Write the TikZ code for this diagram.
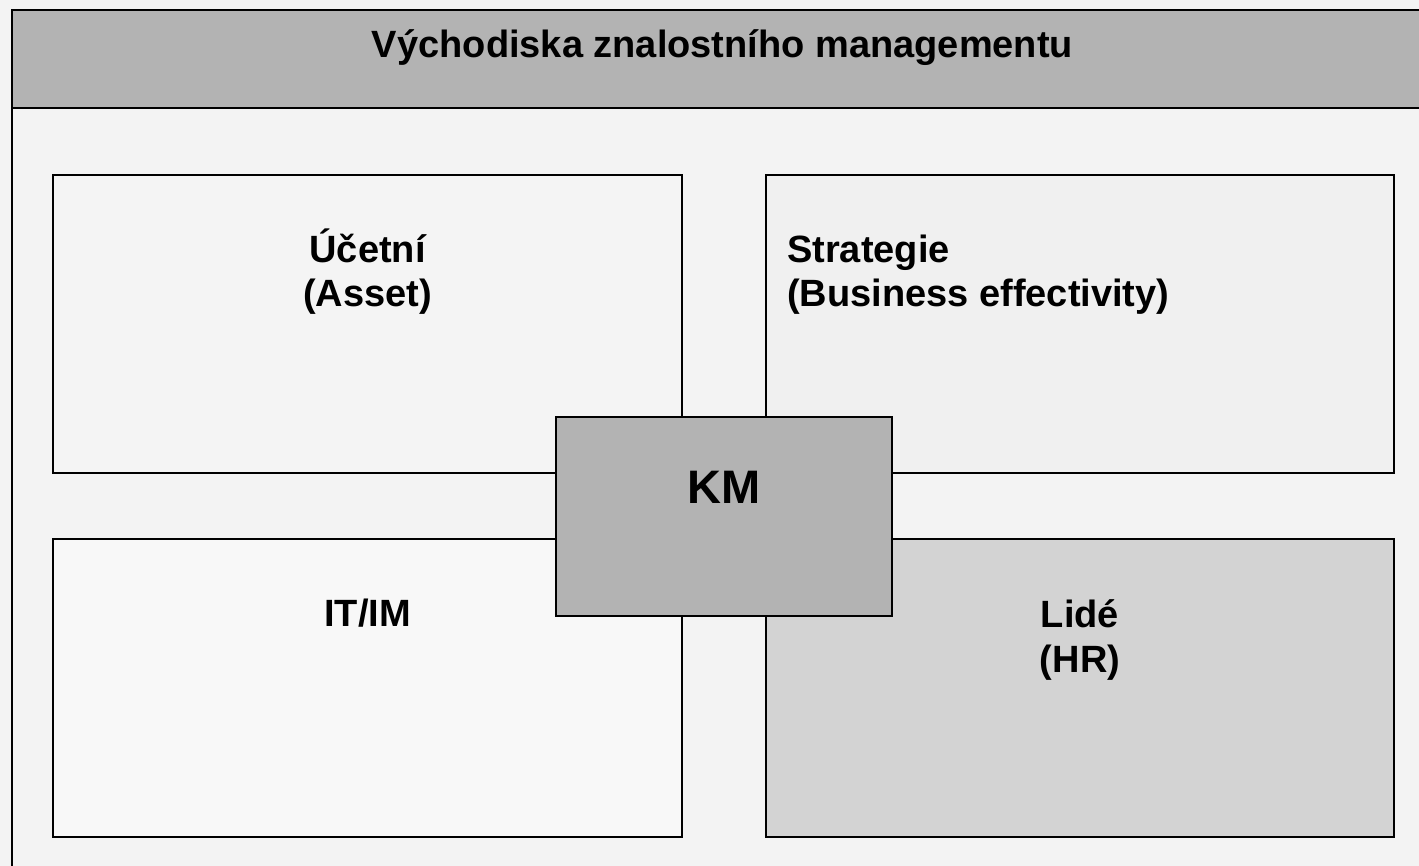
\documentclass[tikz,border=0pt]{standalone}
\usepackage{fontspec}
\setmainfont{Liberation Sans}
\definecolor{bgc}{HTML}{F3F3F3}
\definecolor{headc}{HTML}{B3B3B3}
\definecolor{tlc}{HTML}{F4F4F4}
\definecolor{trc}{HTML}{F0F0F0}
\definecolor{blc}{HTML}{F8F8F8}
\definecolor{brc}{HTML}{D3D3D3}
\definecolor{kmc}{HTML}{B3B3B3}
\begin{document}
\begin{tikzpicture}[x=1pt,y=-1pt,
  panel/.style={draw=black, line width=1.5pt, inner sep=0pt, outer sep=0pt, anchor=north west},
  lbl/.style={font=\fontsize{38}{44}\selectfont\bfseries, inner sep=0pt, anchor=base},
  lblw/.style={lbl, anchor=base west}]
\useasboundingbox (0,0) rectangle (1419,866);
\clip (0,0) rectangle (1419,866);
\fill[bgc] (0,0) rectangle (1419,866);
% outer frame and header
\fill[headc] (12,10) rectangle (1440,108.5);
\draw[line width=2pt] (1440,108.5) -- (12,108.5);
\draw[line width=2pt] (1440,10) -- (12,10) -- (12,900);
% panels
\node[panel, fill=tlc, minimum width=629pt, minimum height=298pt] (tl) at (53,175) {};
\node[panel, fill=trc, minimum width=628pt, minimum height=298pt] (tr) at (766,175) {};
\node[panel, fill=blc, minimum width=629pt, minimum height=298pt] (bl) at (53,539) {};
\node[panel, fill=brc, minimum width=628pt, minimum height=298pt] (br) at (766,539) {};
\node[panel, fill=kmc, minimum width=336pt, minimum height=199pt] (km) at (556,417) {};
% texts
\node[lbl] (title) at (722.5,58) {Východiska znalostního managementu};
\node[lbl] (ucet1) at (367.5,263) {Účetní};
\node[lbl] (ucet2) at (367.5,307) {(Asset)};
\node[lblw] (str1) at (787,263) {Strategie};
\node[lblw] (str2) at (787,307) {(Business effectivity)};
\node[lbl] (itim) at (367.5,626) {IT/IM};
\node[lbl] (lide1) at (1080,627) {Lidé};
\node[lbl] (lide2) at (1080,672) {(HR)};
\node[lbl, font=\fontsize{47}{52}\selectfont\bfseries] (kmt) at (724,503) {KM};
\end{tikzpicture}
\end{document}
